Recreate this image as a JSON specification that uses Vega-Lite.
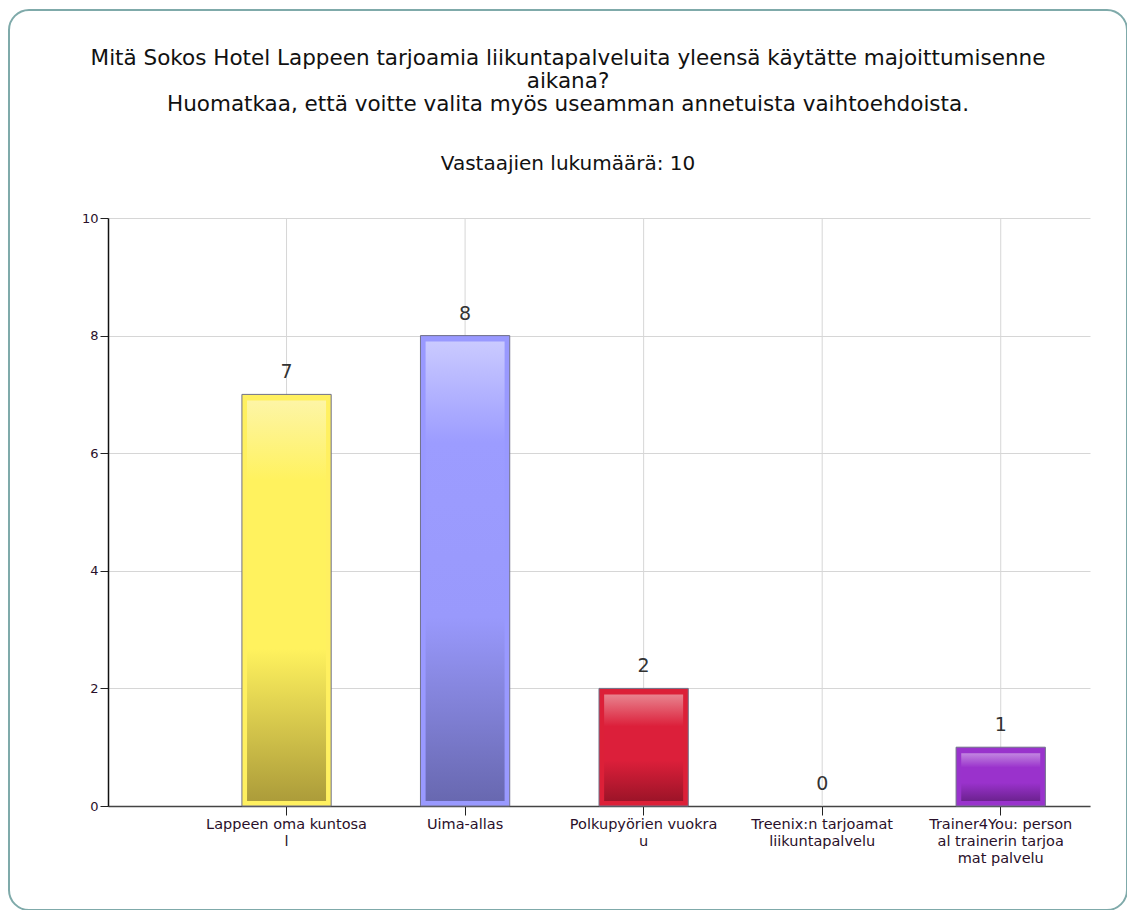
{
  "$schema": "https://vega.github.io/schema/vega-lite/v6.json",
  "autosize": {"type": "none"},
  "padding": {"left": 9, "top": 10, "right": 0, "bottom": 0},
  "width": 1118,
  "height": 900,
  "background": "white",
  "title": {
    "text": ["Mitä Sokos Hotel Lappeen tarjoamia liikuntapalveluita yleensä käytätte majoittumisenne", "aikana?", "Huomatkaa, että voitte valita myös useamman annetuista vaihtoehdoista."],
    "subtitle": "Vastaajien lukumäärä: 10",
    "anchor": "middle",
    "frame": "group",
    "font": "DejaVu Sans",
    "fontSize": 21.5,
    "fontWeight": "normal",
    "color": "#111111",
    "lineHeight": 23,
    "subtitleFont": "DejaVu Sans",
    "subtitleFontSize": 20,
    "subtitleColor": "#111111",
    "subtitleLineHeight": 23,
    "subtitlePadding": 39,
    "offset": -164
  },
  "data": {
    "values": [
      {"cat": "Lappeen oma kuntosal", "value": 7},
      {"cat": "Uima-allas", "value": 8},
      {"cat": "Polkupyörien vuokrau", "value": 2},
      {"cat": "Treenix:n tarjoamat liikuntapalvelu", "value": 0},
      {"cat": "Trainer4You: personal trainerin tarjoamat palvelu", "value": 1}
    ]
  },
  "encoding": {
    "x": {
      "field": "cat",
      "type": "nominal",
      "sort": null,
      "scale": {
        "domain": ["Lappeen oma kuntosal", "Uima-allas", "Polkupyörien vuokrau", "Treenix:n tarjoamat liikuntapalvelu", "Trainer4You: personal trainerin tarjoamat palvelu"],
        "range": [99, 1081],
        "paddingInner": 0.5,
        "paddingOuter": 0.5,
        "align": 0.75
      },
      "axis": {
        "title": null,
        "offset": -104,
        "labelAngle": 0,
        "labelExpr": "[trim(substring(datum.value,0,19)), trim(substring(datum.value,19,38)), trim(substring(datum.value,38,57))]",
        "labelLineHeight": 17,
        "labelFontSize": 14.5,
        "labelColor": "#2a102a",
        "labelPadding": 2,
        "labelOverlap": false,
        "labelLimit": 300,
        "labelBaseline": "top",
        "tickSize": 9,
        "tickColor": "#222222",
        "domainColor": "#444444",
        "domainWidth": 1.5,
        "grid": false
      }
    },
    "y": {
      "field": "value",
      "type": "quantitative",
      "scale": {"domain": [0, 10], "range": [796, 208], "nice": false, "zero": true},
      "axis": {
        "title": null,
        "offset": -99,
        "values": [0, 2, 4, 6, 8, 10],
        "labelFontSize": 13,
        "labelColor": "#2a102a",
        "labelPadding": 2,
        "tickSize": 8,
        "tickColor": "#222222",
        "domainColor": "#111111",
        "domainWidth": 1.5,
        "grid": true,
        "gridColor": "#d6d6d6",
        "gridWidth": 1
      }
    }
  },
  "layer": [
    {
      "mark": {"type": "rule", "color": "#d6d6d6", "strokeWidth": 1},
      "encoding": {"y": {"datum": 0}, "y2": {"datum": 10}}
    },
    {
      "transform": [{"filter": "datum.value > 0"}],
      "mark": {"type": "bar", "stroke": "#707088", "strokeWidth": 1},
      "encoding": {
        "y2": {"datum": 0},
        "color": {
          "field": "cat",
          "type": "nominal",
          "scale": {
            "domain": ["Lappeen oma kuntosal", "Uima-allas", "Polkupyörien vuokrau", "Trainer4You: personal trainerin tarjoamat palvelu"],
            "range": ["#fff060", "#9999ff", "#dc2038", "#9933cc"]
          },
          "legend": null
        }
      }
    },
    {
      "transform": [{"filter": "datum.cat == 'Lappeen oma kuntosal'"}],
      "mark": {
        "type": "bar", "size": 79, "yOffset": 6, "y2Offset": -5,
        "color": {"gradient": "linear", "x1": 0, "y1": 0, "x2": 0, "y2": 1,
          "stops": [{"offset": 0, "color": "#fdf5a6"}, {"offset": 0.2, "color": "#fff25e"}, {"offset": 0.62, "color": "#fff25e"}, {"offset": 1, "color": "#ac9c3a"}]}
      },
      "encoding": {"y2": {"datum": 0}}
    },
    {
      "transform": [{"filter": "datum.cat == 'Uima-allas'"}],
      "mark": {
        "type": "bar", "size": 79, "yOffset": 6, "y2Offset": -5,
        "color": {"gradient": "linear", "x1": 0, "y1": 0, "x2": 0, "y2": 1,
          "stops": [{"offset": 0, "color": "#cacaff"}, {"offset": 0.22, "color": "#9c9cff"}, {"offset": 0.6, "color": "#9999fc"}, {"offset": 1, "color": "#6868b0"}]}
      },
      "encoding": {"y2": {"datum": 0}}
    },
    {
      "transform": [{"filter": "datum.cat == 'Polkupyörien vuokrau'"}],
      "mark": {
        "type": "bar", "size": 79, "yOffset": 6, "y2Offset": -5,
        "color": {"gradient": "linear", "x1": 0, "y1": 0, "x2": 0, "y2": 1,
          "stops": [{"offset": 0, "color": "#e8848f"}, {"offset": 0.3, "color": "#dc1f3a"}, {"offset": 0.62, "color": "#dc1f3a"}, {"offset": 1, "color": "#9c1428"}]}
      },
      "encoding": {"y2": {"datum": 0}}
    },
    {
      "transform": [{"filter": "datum.cat == 'Trainer4You: personal trainerin tarjoamat palvelu'"}],
      "mark": {
        "type": "bar", "size": 79, "yOffset": 6, "y2Offset": -5,
        "color": {"gradient": "linear", "x1": 0, "y1": 0, "x2": 0, "y2": 1,
          "stops": [{"offset": 0, "color": "#c287e0"}, {"offset": 0.3, "color": "#9a32cc"}, {"offset": 0.62, "color": "#9a32cc"}, {"offset": 1, "color": "#6c2290"}]}
      },
      "encoding": {"y2": {"datum": 0}}
    },
    {
      "mark": {"type": "text", "fontSize": 19, "color": "#333333", "baseline": "middle", "dy": -22, "font": "DejaVu Sans"},
      "encoding": {"text": {"field": "value", "type": "quantitative"}}
    }
  ],
  "config": {
    "font": "DejaVu Sans",
    "view": {"stroke": "#7faaaa", "strokeWidth": 2, "cornerRadius": 20, "fill": "white"}
  }
}
